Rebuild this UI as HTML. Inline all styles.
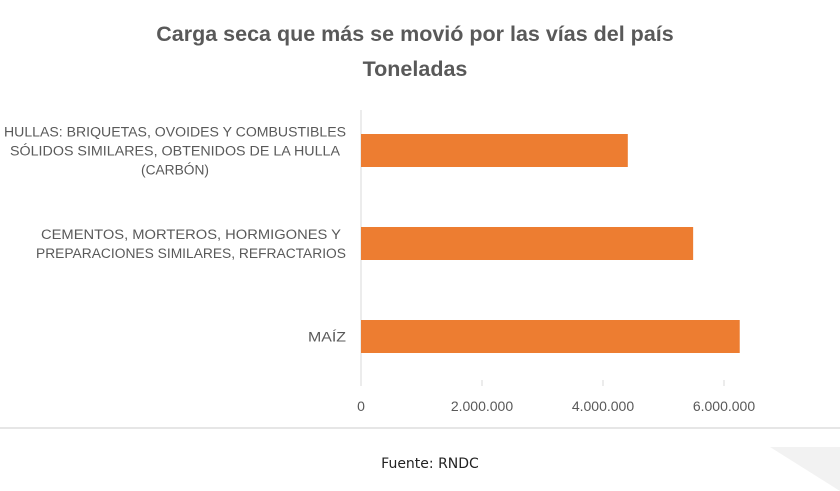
<!DOCTYPE html>
<html><head><meta charset="utf-8"><style>
html,body{margin:0;padding:0;background:#fff;}
svg{display:block;font-family:"Liberation Sans",sans-serif;}
</style></head><body>
<svg width="840" height="491" viewBox="0 0 840 491">
<text x="415" y="41" text-anchor="middle" font-size="21.5" font-weight="bold" fill="#595959">Carga seca que más se movió por las vías del país</text>
<text x="415" y="76" text-anchor="middle" font-size="21.5" font-weight="bold" fill="#595959">Toneladas</text>
<g id="plot"></g>
<line x1="0" y1="428" x2="840" y2="428" stroke="#e6e6e6" stroke-width="2"/>
<polygon points="770,447 840,447 840,491" fill="#f2f2f2"/>
<text x="430" y="468" text-anchor="middle" font-size="14" fill="#222" font-family="DejaVu Sans, sans-serif">Fuente: RNDC</text>
</svg>
<script>
const categories = [
  ["HULLAS: BRIQUETAS, OVOIDES Y COMBUSTIBLES","SÓLIDOS SIMILARES, OBTENIDOS DE LA HULLA","(CARBÓN)"],
  ["CEMENTOS,  MORTEROS, HORMIGONES Y","PREPARACIONES SIMILARES, REFRACTARIOS"],
  ["MAÍZ"]
];
const values = [4410000, 5490000, 6260000];
const tickValues = [0, 2000000, 4000000, 6000000];
const tickLabels = ["0", "2.000.000", "4.000.000", "6.000.000"];

const NS = "http://www.w3.org/2000/svg";
const plot = document.getElementById("plot");
const x0 = 361, pxPerUnit = 60.5 / 1000000;
const xScale = v => x0 + v * pxPerUnit;
const rowTop = 110, rowH = 93, barH = 33;
const yCenter = i => rowTop + rowH * i + rowH / 2 - 6;
function mk(tag, attrs){const e=document.createElementNS(NS,tag);for(const k in attrs)e.setAttribute(k,attrs[k]);plot.appendChild(e);return e;}

const axis = mk("line",{x1:x0,y1:110,x2:x0,y2:385,stroke:"#d9d9d9","stroke-width":1});



tickValues.forEach((v,i)=>{
  const tk = mk("line",{x1:xScale(v),y1:380,x2:xScale(v),y2:386,stroke:"#d9d9d9"});
  
  
  const t = mk("text",{x:xScale(v),y:411,"text-anchor":"middle","font-size":14,fill:"#595959"});
  t.textContent = tickLabels[i];
  
  
});

const widths = [[342,330,68],[300,310],[38]];
values.forEach((v,i)=>{
  const cy = yCenter(i);
  const b = mk("rect",{x:x0,y:cy-barH/2,width:xScale(v)-x0,height:barH,fill:"#ED7D31"});
  
  
  const lines = categories[i];
  const n = lines.length, lh = 19;
  const maxW = Math.max(...widths[i]);
  const cx = 346 - maxW/2;
  lines.forEach((ln,j)=>{
    const t = mk("text",{x:cx,y:cy + (j-(n-1)/2)*lh + 5,"text-anchor":"middle","font-size":13.5,fill:"#595959",textLength:widths[i][j],lengthAdjust:"spacingAndGlyphs"});
    t.textContent = ln;
    
    
  });
});
</script>
</body></html>
